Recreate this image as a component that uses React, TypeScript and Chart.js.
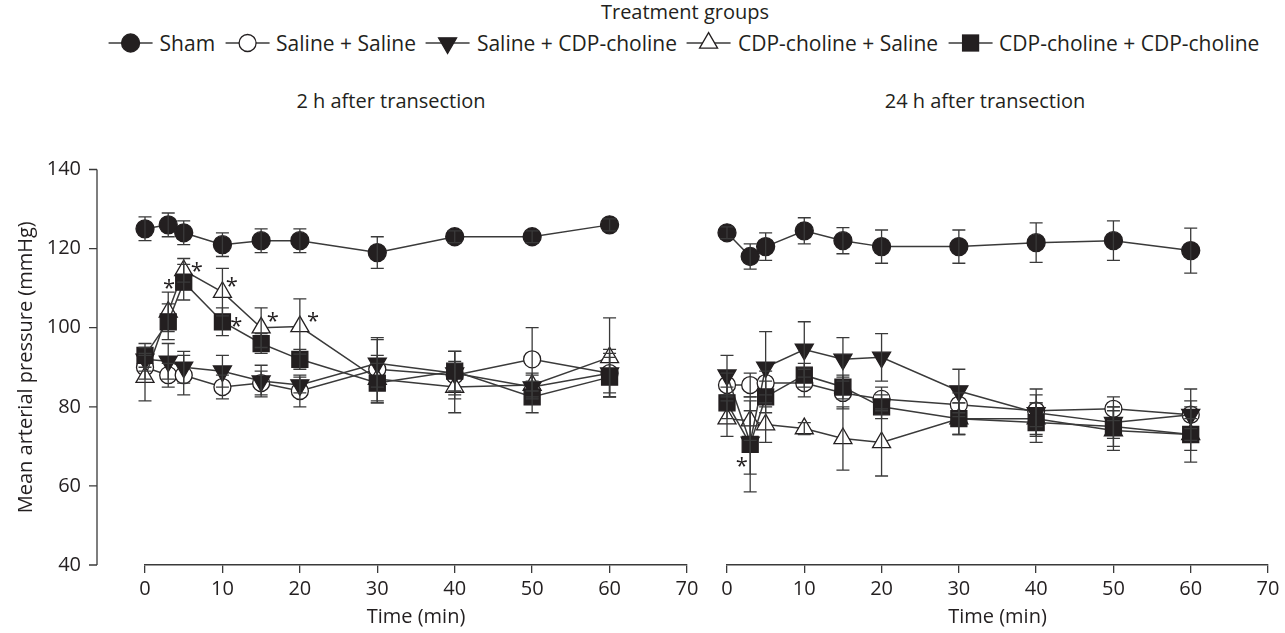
import React, { useEffect, useRef } from "react";
import { Chart, registerables } from "chart.js";
Chart.register(...registerables);

// ---------- data ----------
const times = [0, 3, 5, 10, 15, 20, 30, 40, 50, 60];
const xTicks = [0, 10, 20, 30, 40, 50, 60, 70];
const yTicks = [40, 60, 80, 100, 120, 140];
const seriesNames = ["Sham", "Saline + Saline", "Saline + CDP-choline", "CDP-choline + Saline", "CDP-choline + CDP-choline"];

// 2 h after transection
const sham2h = [125, 126, 124, 121, 122, 122, 119, 123, 123, 126];
const shamErr2h = [3, 3, 3, 3, 3, 3, 4, 1.5, 1.5, 1.5];
const salSal2h = [90, 88, 88, 85, 86, 84, 89.5, 88, 92, 88.5];
const salSalErr2h = [3, 3, 5, 3, 3, 4, 8, 6, 8, 5];
const salCdp2h = [92, 91.5, 90, 89, 86.5, 85.5, 91, 88.5, 85, 88.5];
const salCdpErr2h = [3, 4.5, 4, 4, 4, 2, 6, 5.5, 3, 6];
const cdpSal2h = [87.5, 104, 114.5, 109, 100, 100.3, 87, 85, 85.5, 92.5];
const cdpSalErr2h = [6, 5, 3, 6, 5, 7, 6, 6.5, 3, 10];
const cdpCdp2h = [93, 101.5, 111.5, 101.5, 96, 92, 86, 89, 82.5, 87.5];
const cdpCdpErr2h = [3, 4.5, 4.5, 3.5, 2.5, 2.5, 5, 5, 4, 5];
const stars2h = [[3.1, 111.3], [6.7, 115.6], [11.2, 111.8], [11.8, 101.9], [16.5, 103], [21.7, 103]];

// 24 h after transection
const sham24h = [124, 118, 120.5, 124.5, 122, 120.5, 120.5, 121.5, 122, 119.5];
const shamErr24h = [1.5, 3.2, 3.5, 3.3, 3.3, 4.2, 4.2, 5, 5, 5.7];
const salSal24h = [85.5, 85.5, 86, 86, 83.5, 82, 80.5, 79, 79.5, 78];
const salSalErr24h = [3, 3, 3, 3.5, 4, 3, 3, 4, 3, 3.5];
const salCdp24h = [88, 71, 90, 94.5, 92, 92.5, 84, 78.5, 76, 78];
const salCdpErr24h = [5, 8, 9, 7, 5.5, 6, 5.5, 6, 4, 6.5];
const cdpSal24h = [77, 76.5, 75.5, 74.5, 72, 71, 77, 77, 74, 73];
const cdpSalErr24h = [4.5, 5, 4.5, 1.5, 8, 8.5, 4, 4, 5, 4];
const cdpCdp24h = [81, 70.5, 82.5, 88, 85, 80, 77, 76, 75, 73];
const cdpCdpErr24h = [4, 12, 4, 3, 3, 3, 4, 5, 5, 7];
const stars24h = [[1.9, 66.3]];

// ---------- styles ----------
const INK = "#231f20";
const LINE = "#3a3a3a";
const FONT = "'Open Sans', 'Noto Sans', sans-serif";
const FS = 20;
const LEGEND_FS = 21;

const markerStyles = [
  { pointStyle: "circle", radius: 9, fill: INK, rotation: 0, order: 4 },
  { pointStyle: "circle", radius: 8.5, fill: "#ffffff", rotation: 0, order: 3 },
  { pointStyle: "triangle", radius: 10.4, fill: INK, rotation: 180, order: 1 },
  { pointStyle: "triangle", radius: 10.4, fill: "#ffffff", rotation: 0, order: 2 },
  { pointStyle: "rect", radius: 11.3, fill: INK, rotation: 0, order: 0 },
];

const Y_AXIS_X = 97;

function makeOverlay(stars: number[][], drawYAxis: boolean) {
  return {
    id: "overlay",
    afterDatasetsDraw(chart: any) {
      const { ctx } = chart;
      const xs = chart.scales.x;
      const ys = chart.scales.y;
      ctx.save();
      ctx.strokeStyle = LINE;
      ctx.lineWidth = 1.3;
      chart.data.datasets.forEach((ds: any) => {
        ds.data.forEach((p: any, i: number) => {
          const e = ds.errors[i];
          if (!e) return;
          const px = xs.getPixelForValue(p.x);
          const top = ys.getPixelForValue(p.y + e);
          const bot = ys.getPixelForValue(p.y - e);
          ctx.beginPath();
          ctx.moveTo(px, top);
          ctx.lineTo(px, bot);
          ctx.moveTo(px - 6.5, top);
          ctx.lineTo(px + 6.5, top);
          ctx.moveTo(px - 6.5, bot);
          ctx.lineTo(px + 6.5, bot);
          ctx.stroke();
        });
      });
      const sf = 22;
      ctx.fillStyle = INK;
      ctx.font = `${sf}px ${FONT}`;
      ctx.textAlign = "center";
      ctx.textBaseline = "alphabetic";
      stars.forEach(([t, v]) => {
        ctx.fillText("*", xs.getPixelForValue(t), ys.getPixelForValue(v) + 0.56 * sf);
      });
      ctx.restore();
    },
    afterDraw(chart: any) {
      if (!drawYAxis) return;
      const { ctx } = chart;
      const ys = chart.scales.y;
      ctx.save();
      ctx.strokeStyle = LINE;
      ctx.lineWidth = 1.3;
      ctx.beginPath();
      ctx.moveTo(Y_AXIS_X, ys.getPixelForValue(yTicks[yTicks.length - 1]));
      ctx.lineTo(Y_AXIS_X, ys.getPixelForValue(yTicks[0]));
      yTicks.forEach((v) => {
        const py = ys.getPixelForValue(v);
        ctx.moveTo(Y_AXIS_X - 8, py);
        ctx.lineTo(Y_AXIS_X, py);
      });
      ctx.stroke();
      ctx.restore();
    },
  };
}

function makeConfig(values: number[][], errors: number[][], stars: number[][], left: boolean): any {
  const datasets = values.map((vals, k) => {
    const s = markerStyles[k];
    return {
      label: seriesNames[k],
      data: times.map((t, i) => ({ x: t, y: vals[i] })),
      errors: errors[k],
      showLine: true,
      borderColor: LINE,
      borderWidth: 1.5,
      pointStyle: s.pointStyle,
      pointRadius: s.radius,
      pointRotation: s.rotation,
      pointBackgroundColor: s.fill,
      pointBorderColor: INK,
      pointBorderWidth: 1.3,
      order: s.order,
      clip: false,
    };
  });
  return {
    type: "scatter",
    data: { datasets },
    plugins: [makeOverlay(stars, left)],
    options: {
      animation: false,
      responsive: false,
      events: [],
      layout: { padding: left ? { left: 0, right: 20, top: 19.5, bottom: 0 } : { left: 20, right: 17, top: 19.5, bottom: 0 } },
      plugins: { legend: { display: false }, tooltip: { enabled: false } },
      scales: {
        x: {
          type: "linear",
          min: xTicks[0],
          max: xTicks[xTicks.length - 1],
          afterBuildTicks: (sc: any) => { sc.ticks = xTicks.map((v) => ({ value: v })); },
          afterFit: (sc: any) => { sc.height = 68; },
          grid: { drawOnChartArea: false, drawTicks: true, tickLength: 8, color: LINE, lineWidth: 1.3 },
          border: { display: true, color: LINE, width: 1.6 },
          ticks: { color: INK, font: { family: FONT, size: FS }, padding: 4, maxRotation: 0 },
          title: { display: true, text: "Time (min)", color: INK, font: { family: FONT, size: FS }, padding: { top: 0, bottom: 4 } },
        },
        y: {
          type: "linear",
          display: left,
          min: yTicks[0],
          max: yTicks[yTicks.length - 1],
          afterBuildTicks: (sc: any) => { sc.ticks = yTicks.map((v) => ({ value: v })); },
          afterFit: (sc: any) => { sc.width = left ? 145 : 0; },
          // invisible tick marks used only to push labels next to the detached axis line
          grid: { display: false, drawTicks: true, tickLength: 60 },
          border: { display: false },
          ticks: { color: INK, font: { family: FONT, size: FS }, padding: 4 },
          title: { display: true, text: "Mean arterial pressure (mmHg)", color: INK, font: { family: FONT, size: FS }, padding: { top: 14, bottom: 0 } },
        },
      },
    },
  };
}

function Panel({ values, errors, stars, left, x, width }: any) {
  const ref = useRef<HTMLCanvasElement>(null);
  useEffect(() => {
    const chart = new Chart(ref.current as HTMLCanvasElement, makeConfig(values, errors, stars, left));
    return () => chart.destroy();
  }, []);
  return (
    <canvas
      ref={ref}
      width={width}
      height={483}
      style={{ position: "absolute", left: x, top: 150, width, height: 483 }}
    />
  );
}

function LegendMarker({ idx }: { idx: number }) {
  const s = markerStyles[idx];
  const W = 44;
  const cx = W / 2, cy = 11;
  let shape: any = null;
  if (s.pointStyle === "circle") {
    shape = <circle cx={cx} cy={cy} r={s.radius} fill={s.fill} stroke={INK} strokeWidth={1.3} />;
  } else if (s.pointStyle === "rect") {
    const h = s.radius * Math.SQRT1_2;
    shape = <rect x={cx - h} y={cy - h} width={2 * h} height={2 * h} fill={s.fill} stroke={INK} strokeWidth={1.3} />;
  } else {
    const r = s.radius;
    const w = (r * Math.sqrt(3)) / 2;
    const pts = s.rotation === 180
      ? `${cx - w},${cy - r / 2} ${cx + w},${cy - r / 2} ${cx},${cy + r}`
      : `${cx - w},${cy + r / 2} ${cx + w},${cy + r / 2} ${cx},${cy - r}`;
    shape = <polygon points={pts} fill={s.fill} stroke={INK} strokeWidth={1.3} />;
  }
  return (
    <svg width={W} height={22} style={{ display: "block", overflow: "visible" }}>
      <line x1={0} y1={cy} x2={W} y2={cy} stroke={LINE} strokeWidth={1.5} />
      {shape}
    </svg>
  );
}

export default function App() {
  const textStyle: any = { position: "absolute", whiteSpace: "nowrap", transform: "translateX(-50%)", lineHeight: "24px" };
  return (
    <div style={{ position: "absolute", left: 0, top: 0, width: 1285, height: 633, background: "#fff", fontFamily: FONT, fontSize: FS, color: INK, overflow: "hidden" }}>
      <div style={{ ...textStyle, left: 685, top: 0 }}>Treatment groups</div>
      <div style={{ ...textStyle, left: 684, top: 31, display: "flex", alignItems: "center", fontSize: LEGEND_FS }}>
        {seriesNames.map((n, i) => (
          <div key={n} style={{ display: "flex", alignItems: "center", marginRight: i < seriesNames.length - 1 ? 10 : 0 }}>
            <LegendMarker idx={i} />
            <span style={{ marginLeft: 7 }}>{n}</span>
          </div>
        ))}
      </div>
      <div style={{ ...textStyle, left: 391, top: 89 }}>2 h after transection</div>
      <div style={{ ...textStyle, left: 985, top: 89 }}>24 h after transection</div>
      <Panel
        values={[sham2h, salSal2h, salCdp2h, cdpSal2h, cdpCdp2h]}
        errors={[shamErr2h, salSalErr2h, salCdpErr2h, cdpSalErr2h, cdpCdpErr2h]}
        stars={stars2h}
        left={true}
        x={0}
        width={707}
      />
      <Panel
        values={[sham24h, salSal24h, salCdp24h, cdpSal24h, cdpCdp24h]}
        errors={[shamErr24h, salSalErr24h, salCdpErr24h, cdpSalErr24h, cdpCdpErr24h]}
        stars={stars24h}
        left={false}
        x={707}
        width={578}
      />
    </div>
  );
}
